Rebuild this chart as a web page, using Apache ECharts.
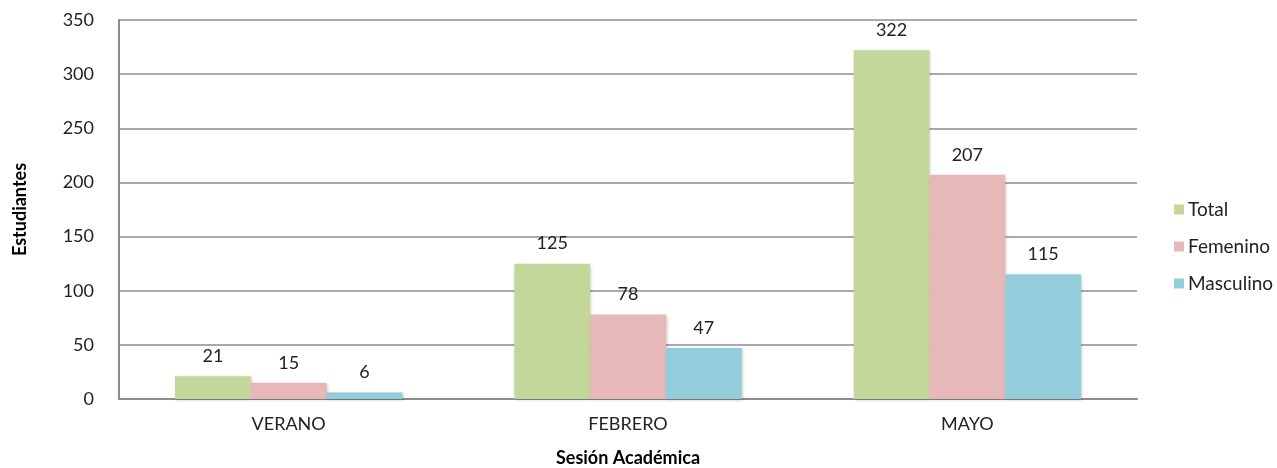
<!DOCTYPE html>
<html><head><meta charset="utf-8">
<script src="https://cdn.jsdelivr.net/npm/echarts@6/dist/echarts.min.js"></script>
<style>html,body{margin:0;padding:0;background:#fff}#c{width:1277px;height:468px}</style>
</head><body><div id="c"></div>
<script>
const categories = ['VERANO', 'FEBRERO', 'MAYO'];
const total = [21, 125, 322];
const femenino = [15, 78, 207];
const masculino = [6, 47, 115];
const yTicks = { min: 0, max: 350, interval: 50 };

const font = 'Lato, "Open Sans", sans-serif';
const chart = echarts.init(document.getElementById('c'), null, { renderer: 'canvas' });
function mk(name, data, color) {
  return {
    name, type: 'bar', data, barGap: '0%', barCategoryGap: '33%',
    itemStyle: { color, shadowColor: 'rgba(0,0,0,0.25)', shadowBlur: 3, shadowOffsetX: 1, shadowOffsetY: 1 },
    label: { show: true, position: 'top', distance: 11, color: '#222', fontSize: 18, fontFamily: font },
    emphasis: { disabled: true }
  };
}
chart.setOption({
  animation: false,
  textStyle: { fontFamily: font },
  grid: { left: 119, right: 140, top: 20, bottom: 69, containLabel: false, outerBoundsMode: 'none' },
  legend: {
    orient: 'vertical', left: 1169, top: 195, itemWidth: 10, itemHeight: 10, itemGap: 18,
    icon: 'rect', textStyle: { fontSize: 19, color: '#222', fontFamily: font, padding: [0,0,0,-1] },
    data: ['Total', 'Femenino', 'Masculino']
  },
  xAxis: {
    type: 'category', data: categories,
    name: 'Sesión Académica', nameLocation: 'middle', nameGap: 50,
    nameTextStyle: { fontSize: 18, fontWeight: 'bold', color: '#000', fontFamily: font },
    axisLine: { lineStyle: { color: '#8c8c8c', width: 2 } },
    axisTick: { show: false },
    axisLabel: { fontSize: 18, color: '#222', margin: 16, fontFamily: font }
  },
  yAxis: {
    type: 'value', min: yTicks.min, max: yTicks.max, interval: yTicks.interval,
    name: 'Estudiantes', nameLocation: 'middle', nameGap: 90, nameRotate: 90,
    nameTextStyle: { fontSize: 18, fontWeight: 'bold', color: '#000', fontFamily: font },
    axisLine: { show: true, lineStyle: { color: '#8c8c8c', width: 2 } },
    axisTick: { show: false },
    splitLine: { lineStyle: { color: '#8c8c8c', width: 1.5 } },
    axisLabel: { fontSize: 18, color: '#222', margin: 25, fontFamily: font }
  },
  series: [
    mk('Total', total, '#C4D79B'),
    mk('Femenino', femenino, '#E6B8B7'),
    mk('Masculino', masculino, '#92CDDC')
  ]
});
</script></body></html>
